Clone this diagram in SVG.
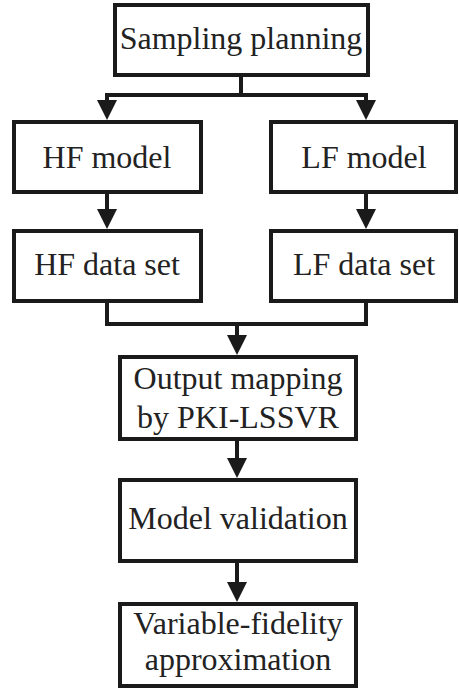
<svg xmlns="http://www.w3.org/2000/svg" width="459" height="690" viewBox="0 0 459 690">
  <style>
    .box { fill: #ffffff; stroke: #1a1a1a; stroke-width: 4; }
    .lbl { font-family: "Liberation Serif", "Times New Roman", serif; font-size: 32px; fill: #222222; text-anchor: middle; }
    .wire { fill: none; stroke: #1a1a1a; stroke-width: 4; stroke-linejoin: miter; }
  </style>
  <defs>
    <marker id="head" viewBox="0 0 20 20" refX="0" refY="10" markerWidth="20" markerHeight="20" markerUnits="userSpaceOnUse" orient="auto">
      <path d="M0,0 L20,10 L0,20 z" fill="#1a1a1a"/>
    </marker>
  </defs>
  <rect width="459" height="690" fill="#ffffff"/>

  <!-- flow connectors -->
  <g id="connectors">
    <path class="wire" d="M241,77 V95 H107 V100" marker-end="url(#head)"/>
    <path class="wire" d="M241,95 H366 V100" marker-end="url(#head)"/>
    <path class="wire" d="M107,194 V209" marker-end="url(#head)"/>
    <path class="wire" d="M366,194 V209" marker-end="url(#head)"/>
    <path class="wire" d="M107,303 V324 H366 V303"/>
    <path class="wire" d="M237,324 V335" marker-end="url(#head)"/>
    <path class="wire" d="M237,441 V458" marker-end="url(#head)"/>
    <path class="wire" d="M237,563 V582" marker-end="url(#head)"/>
  </g>

  <g id="sampling">
    <rect class="box" x="115" y="5" width="253" height="70"/>
    <text class="lbl" x="241" y="49">Sampling planning</text>
  </g>
  <g id="hf-model">
    <rect class="box" x="14" y="122" width="187" height="70"/>
    <text class="lbl" x="107" y="168">HF model</text>
  </g>
  <g id="lf-model">
    <rect class="box" x="271" y="122" width="185" height="70"/>
    <text class="lbl" x="364" y="168">LF model</text>
  </g>
  <g id="hf-data">
    <rect class="box" x="14" y="231" width="187" height="70"/>
    <text class="lbl" x="107" y="275">HF data set</text>
  </g>
  <g id="lf-data">
    <rect class="box" x="271" y="231" width="185" height="70"/>
    <text class="lbl" x="364" y="275">LF data set</text>
  </g>
  <g id="output-mapping">
    <rect class="box" x="120" y="357" width="236" height="82"/>
    <text class="lbl" x="238" y="389">Output mapping</text>
    <text class="lbl" x="238" y="428">by PKI-LSSVR</text>
  </g>
  <g id="model-validation">
    <rect class="box" x="120" y="480" width="236" height="81"/>
    <text class="lbl" x="238" y="529">Model validation</text>
  </g>
  <g id="vf-approx">
    <rect class="box" x="120" y="604" width="236" height="82"/>
    <text class="lbl" x="238" y="634">Variable-fidelity</text>
    <text class="lbl" x="238" y="670">approximation</text>
  </g>
</svg>
